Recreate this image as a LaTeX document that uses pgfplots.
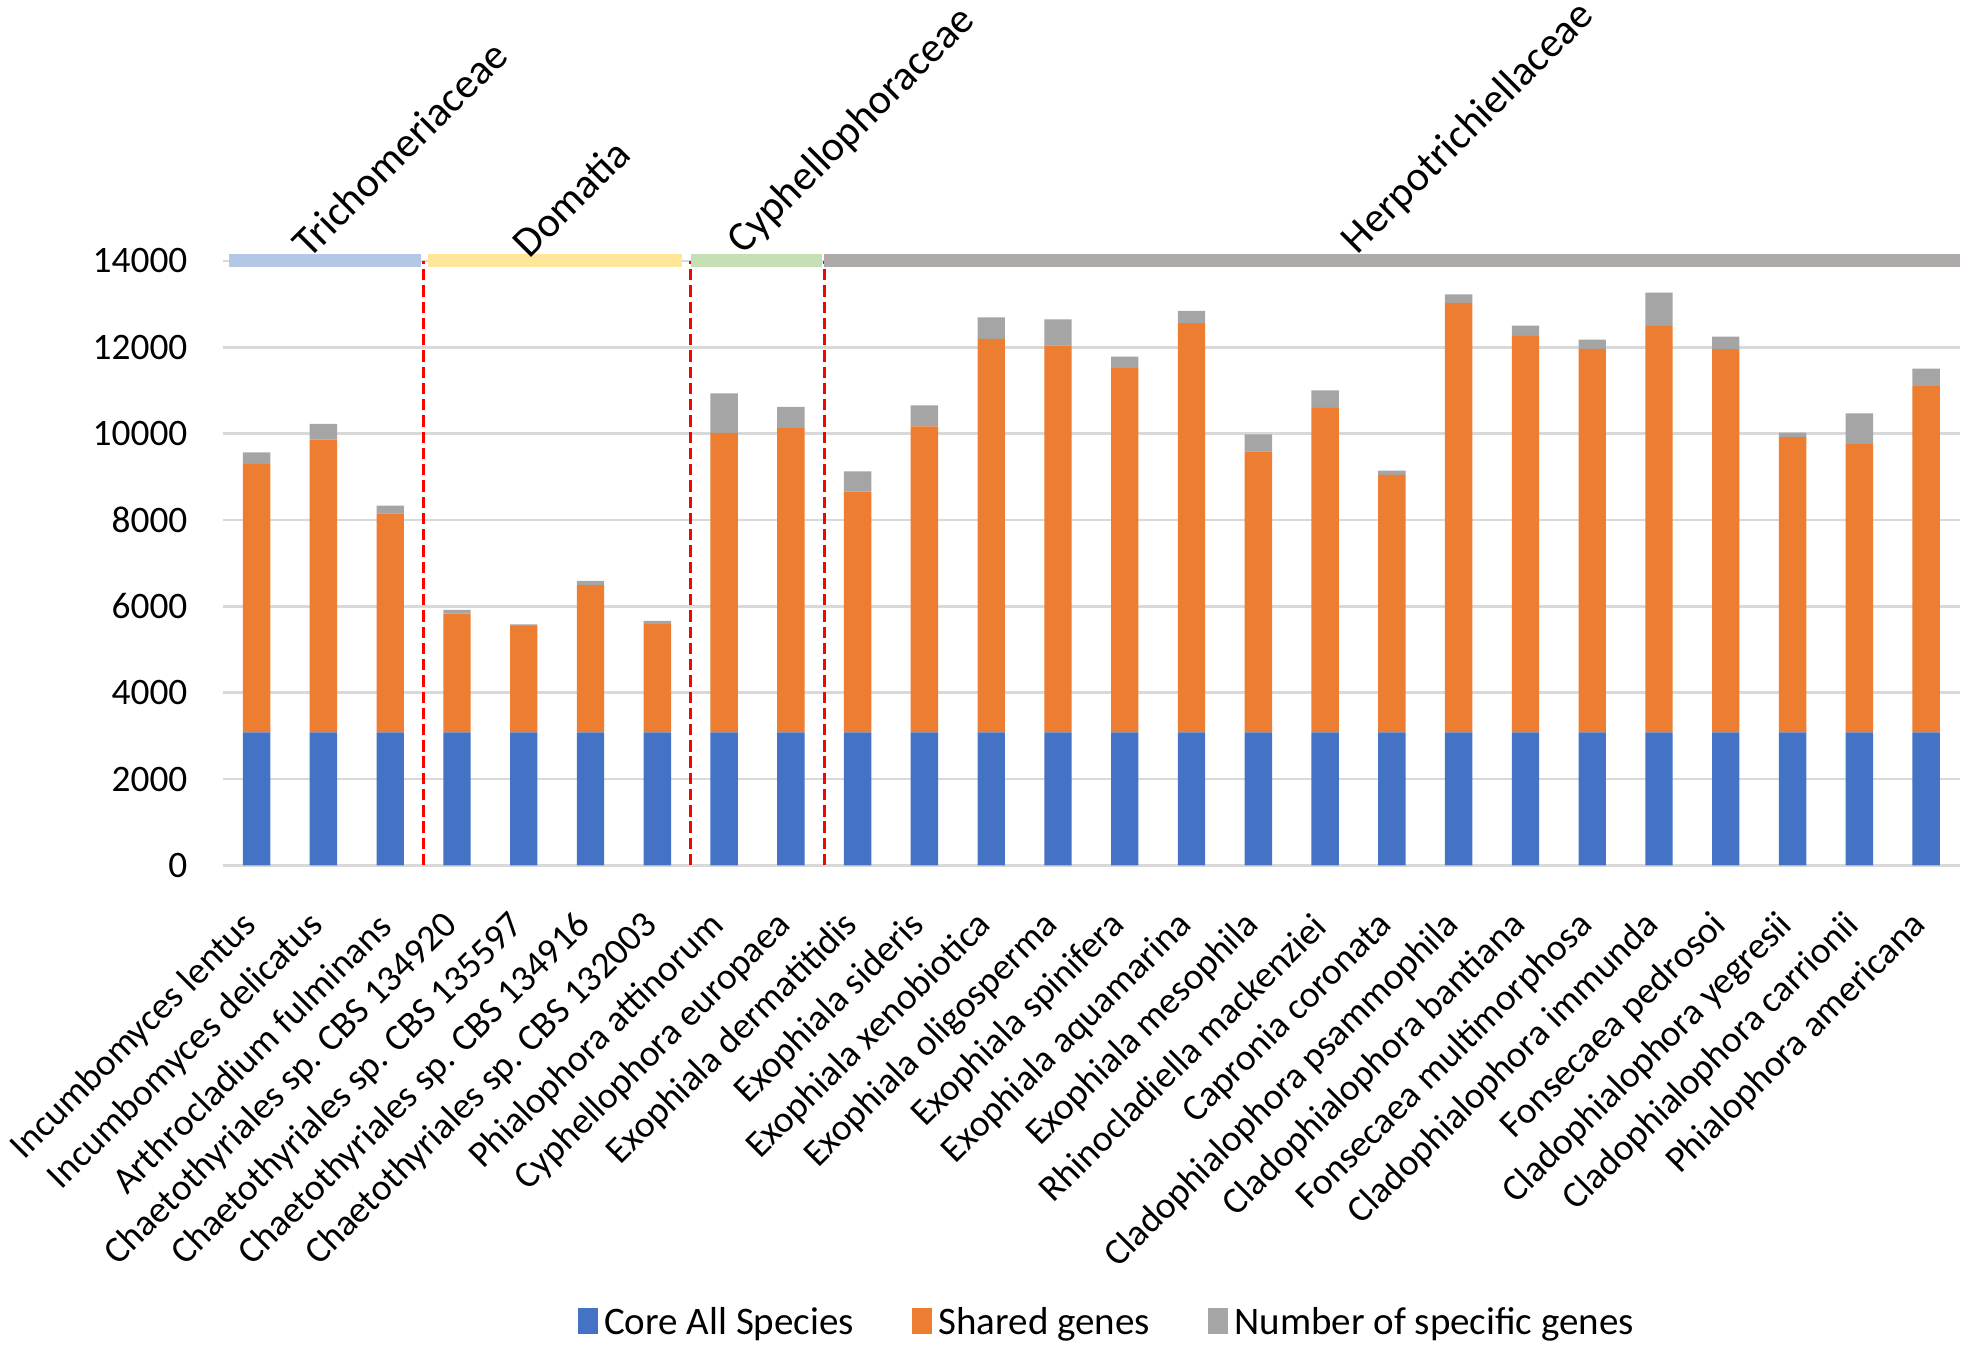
\documentclass[border=0pt]{standalone}
\usepackage{fontspec}
\setmainfont{Carlito}
\usepackage{pgfplots}
\pgfplotsset{compat=1.18}
\definecolor{cblue}{HTML}{4472C4}
\definecolor{corange}{HTML}{ED7D31}
\definecolor{cgray}{HTML}{A5A5A5}
\definecolor{gridgray}{HTML}{D9D9D9}
\definecolor{bandblue}{HTML}{B4C7E7}
\definecolor{bandyellow}{HTML}{FFE699}
\definecolor{bandgreen}{HTML}{C5E0B4}
\definecolor{bandgray}{HTML}{AEAAAA}
\begin{document}
\begin{tikzpicture}[font=\fontsize{11.5}{13.5}\selectfont]
\begin{axis}[
  scale only axis, width=534.3pt, height=186pt,
  ybar stacked, bar width=0.41,
  xmin=-0.5, xmax=25.5, ymin=0, ymax=14000,
  enlargelimits=false,
  xtick={0,...,25},
  xticklabels={Incumbomyces lentus, Incumbomyces delicatus, Arthrocladium fulminans, Chaetothyriales sp. CBS 134920, Chaetothyriales sp. CBS 135597, Chaetothyriales sp. CBS 134916, Chaetothyriales sp. CBS 132003, Phialophora attinorum, Cyphellophora europaea, Exophiala dermatitidis, Exophiala sideris, Exophiala xenobiotica, Exophiala oligosperma, Exophiala spinifera, Exophiala aquamarina, Exophiala mesophila, Rhinocladiella mackenziei, Capronia coronata, Cladophialophora psammophila, Cladophialophora bantiana, Fonsecaea multimorphosa, Cladophialophora immunda, Fonsecaea pedrosoi, Cladophialophora yegresii, Cladophialophora carrionii, Phialophora americana},
  xticklabel style={rotate=45, anchor=east, inner sep=1pt, xshift=-11.9pt, yshift=-10.7pt},
  ytick={0,2000,...,14000},
  scaled y ticks=false,
  yticklabel style={xshift=-7.5pt},
  /pgf/number format/assume math mode=true,
  /pgf/number format/1000 sep={},
  ymajorgrids, grid style={draw=gridgray, line width=0.8pt},
  axis line style={draw=none},
  major tick length=0pt,
  legend columns=3,
  legend style={at={(0.5,-0.757)}, anchor=center, xshift=5.5pt, draw=none, fill=none,
    /tikz/every even column/.append style={column sep=16pt},
    font=\fontsize{12}{14}\selectfont},
  legend image code/.code={\fill[#1] (0pt,-3.5pt) rectangle (6pt,4.5pt);},
]
\addplot[fill=cblue, draw=none] coordinates {(0,3080) (1,3080) (2,3080) (3,3080) (4,3080) (5,3080) (6,3080) (7,3080) (8,3080) (9,3080) (10,3080) (11,3080) (12,3080) (13,3080) (14,3080) (15,3080) (16,3080) (17,3080) (18,3080) (19,3080) (20,3080) (21,3080) (22,3080) (23,3080) (24,3080) (25,3080)};
\addplot[fill=corange, draw=none] coordinates {(0,6220) (1,6780) (2,5070) (3,2750) (4,2465) (5,3410) (6,2510) (7,6940) (8,7050) (9,5575) (10,7090) (11,9115) (12,8965) (13,8435) (14,9480) (15,6510) (16,7515) (17,5965) (18,9950) (19,9185) (20,8885) (21,9415) (22,8875) (23,6840) (24,6680) (25,8020)};
\addplot[fill=cgray, draw=none] coordinates {(0,265) (1,363) (2,185) (3,89) (4,35) (5,98) (6,71) (7,913) (8,488) (9,470) (10,487) (11,496) (12,602) (13,266) (14,284) (15,390) (16,407) (17,97) (18,195) (19,239) (20,212) (21,771) (22,293) (23,106) (24,709) (25,407)};
\legend{Core All Species, Shared genes, Number of specific genes}
\coordinate (r1b) at (axis cs:2.5,0);   \coordinate (r1t) at (axis cs:2.5,14000);
\coordinate (r2b) at (axis cs:6.5,0);   \coordinate (r2t) at (axis cs:6.5,14000);
\coordinate (r3b) at (axis cs:8.5,0);   \coordinate (r3t) at (axis cs:8.5,14000);
\coordinate (b1a) at (axis cs:-0.42,14000); \coordinate (b1b) at (axis cs:2.46,14000);
\coordinate (b2a) at (axis cs:2.57,14000);  \coordinate (b2b) at (axis cs:6.37,14000);
\coordinate (b3a) at (axis cs:6.5,14000);   \coordinate (b3b) at (axis cs:8.47,14000);
\coordinate (b4a) at (axis cs:8.5,14000);   \coordinate (b4b) at (axis cs:25.5,14000);
\coordinate (g1) at (axis cs:0.53,14000);
\coordinate (g2) at (axis cs:3.83,14000);
\coordinate (g3) at (axis cs:7.1,14000);
\coordinate (g4) at (axis cs:16.3,14000);
\end{axis}
\draw[red, line width=1pt, dash pattern=on 3.5pt off 1.5pt] (r1b) -- (r1t);
\draw[red, line width=1pt, dash pattern=on 3.5pt off 1.5pt] (r2b) -- (r2t);
\draw[red, line width=1pt, dash pattern=on 3.5pt off 1.5pt] (r3b) -- (r3t);
\draw[bandblue, line width=4pt] (b1a) -- (b1b);
\draw[bandyellow, line width=4pt] (b2a) -- (b2b);
\draw[bandgreen, line width=4pt] (b3a) -- (b3b);
\draw[bandgray, line width=4pt] (b4a) -- (b4b);
\begin{scope}[font=\fontsize{13}{15}\selectfont]
\node[rotate=45, anchor=south west, inner sep=0pt] at ([xshift=5.4pt,yshift=0pt]g1) {Trichomeriaceae};
\node[rotate=45, anchor=south west, inner sep=0pt] at ([xshift=5.4pt,yshift=0pt]g2) {Domatia};
\node[rotate=45, anchor=south west, inner sep=0pt] at ([xshift=5.4pt,yshift=0pt]g3) {Cyphellophoraceae};
\node[rotate=45, anchor=south west, inner sep=0pt] at ([xshift=5.4pt,yshift=0pt]g4) {Herpotrichiellaceae};
\end{scope}
\pgfresetboundingbox
\path[use as bounding box] (-68.7pt,-147.4pt) rectangle (536.6pt,266.3pt);
\end{tikzpicture}
\end{document}
